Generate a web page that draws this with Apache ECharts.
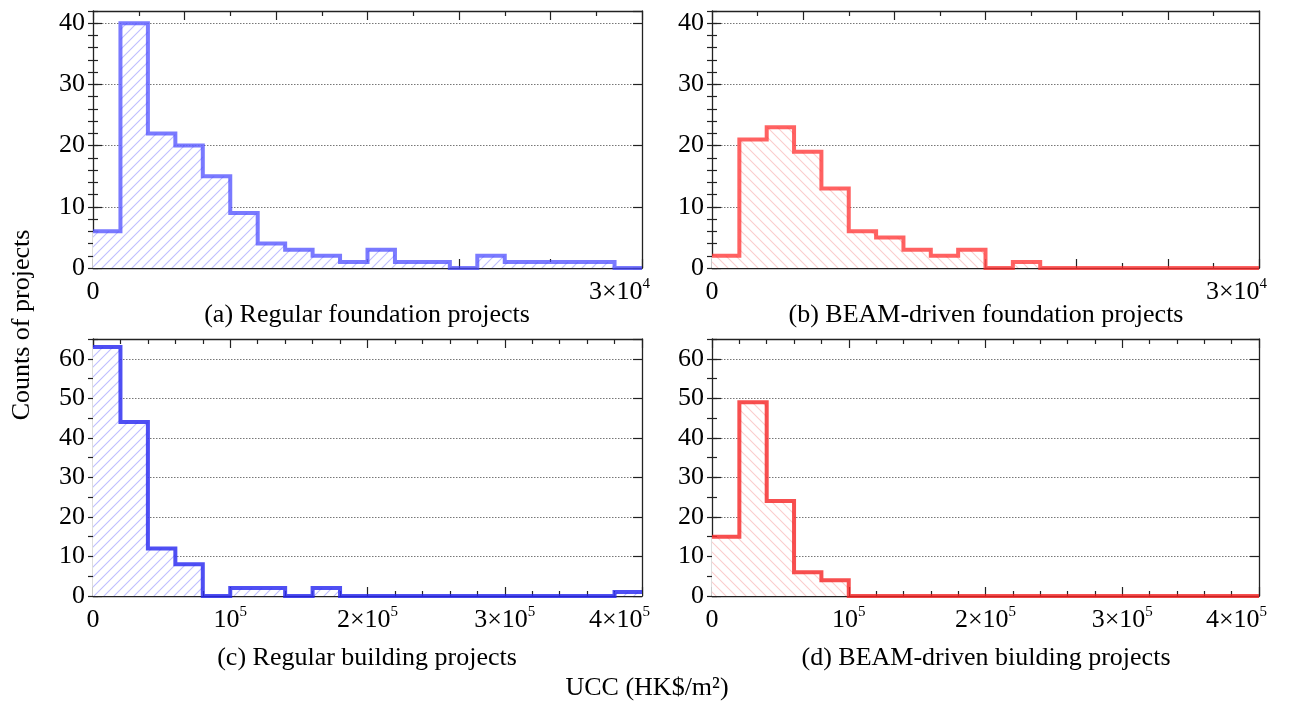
<!DOCTYPE html>
<html><head><meta charset="utf-8">
<script src="https://cdn.jsdelivr.net/npm/echarts@6/dist/echarts.min.js"></script>
<style>html,body{margin:0;padding:0;background:#fff}#c{width:1294px;height:702px}</style>
</head><body><div id="c"></div>
<script>
// ---------------- data ----------------
const foundationBinEdges = [0,1500,3000,4500,6000,7500,9000,10500,12000,13500,15000,16500,18000,19500,21000,22500,24000,25500,27000,28500,30000];
const buildingBinEdges = [0,20000,40000,60000,80000,100000,120000,140000,160000,180000,200000,220000,240000,260000,280000,300000,320000,340000,360000,380000,400000];

const regularFoundationCounts = [6,40,22,20,15,9,4,3,2,1,3,1,1,0,2,1,1,1,1,0];
const beamFoundationCounts    = [2,21,23,19,13,6,5,3,2,3,0,1,0,0,0,0,0,0,0,0];
const regularBuildingCounts   = [63,44,12,8,0,2,2,0,2,0,0,0,0,0,0,0,0,0,0,1];
const beamBuildingCounts      = [15,49,24,6,4,0,0,0,0,0,0,0,0,0,0,0,0,0,0,0];

const foundationTickValues = [0, 30000];
const foundationTickBases  = ['0', '3×10'];
const foundationTickExps   = ['', '4'];
const buildingTickValues = [0, 100000, 200000, 300000, 400000];
const buildingTickBases  = ['0', '10', '2×10', '3×10', '4×10'];
const buildingTickExps   = ['', '5', '5', '5', '5'];

const panelCaptions = ['(a) Regular foundation projects', '(b) BEAM-driven foundation projects',
                       '(c) Regular building projects', '(d) BEAM-driven biulding projects'];
const yAxisTitle = 'Counts of projects';
const xAxisTitle = 'UCC (HK$/m²)';

// ---------------- styling ----------------
const FONT = '"Liberation Serif","Times New Roman",serif';
const AXC = '#222';

function hatch(r, g, b, dir) {
  const s = 10;
  const c = document.createElement('canvas'); c.width = s; c.height = s;
  const ctx = c.getContext('2d');
  ctx.fillStyle = 'rgb(255,255,255)'; ctx.fillRect(0, 0, s, s);
  ctx.strokeStyle = 'rgb(' + r + ',' + g + ',' + b + ')'; ctx.lineWidth = 1.1;
  ctx.beginPath();
  if (dir > 0) {
    ctx.moveTo(-1, s + 1); ctx.lineTo(s + 1, -1);
    ctx.moveTo(-1, 1); ctx.lineTo(1, -1);
    ctx.moveTo(s - 1, s + 1); ctx.lineTo(s + 1, s - 1);
  } else {
    ctx.moveTo(-1, -1); ctx.lineTo(s + 1, s + 1);
    ctx.moveTo(s - 1, -1); ctx.lineTo(s + 1, 1);
    ctx.moveTo(-1, s - 1); ctx.lineTo(1, s + 1);
  }
  ctx.stroke();
  return c.toDataURL('image/png');
}

const panels = [
  {grid:{left:93, top:11, width:549, height:257}, edges:foundationBinEdges, counts:regularFoundationCounts,
   xmax:30000, xMajor:5000, xMinorSplit:2, ymax:42, yMinor:2, tv:foundationTickValues, tb:foundationTickBases, te:foundationTickExps,
   color:'rgba(70,70,255,0.72)', width:4, fill:hatch(190,190,255,1)},
  {grid:{left:712, top:11, width:547, height:257}, edges:foundationBinEdges, counts:beamFoundationCounts,
   xmax:30000, xMajor:5000, xMinorSplit:2, ymax:42, yMinor:2, tv:foundationTickValues, tb:foundationTickBases, te:foundationTickExps,
   color:'rgba(255,45,45,0.75)', width:4, fill:hatch(250,205,205,-1)},
  {grid:{left:93, top:339, width:549, height:257}, edges:buildingBinEdges, counts:regularBuildingCounts,
   xmax:400000, xMajor:100000, xMinorSplit:5, ymax:65, yMinor:5, tv:buildingTickValues, tb:buildingTickBases, te:buildingTickExps,
   color:'rgba(40,40,240,0.82)', width:4, fill:hatch(190,190,255,1)},
  {grid:{left:712, top:339, width:547, height:257}, edges:buildingBinEdges, counts:beamBuildingCounts,
   xmax:400000, xMajor:100000, xMinorSplit:5, ymax:65, yMinor:5, tv:buildingTickValues, tb:buildingTickBases, te:buildingTickExps,
   color:'rgba(245,35,35,0.8)', width:4, fill:hatch(250,205,205,-1)}
];

const rich = {
  b: {fontFamily: FONT, fontSize: 26, lineHeight: 30, color: '#000'},
  e: {fontFamily: FONT, fontSize: 15, lineHeight: 15, verticalAlign: 'top', color: '#000'},
  el: {fontFamily: FONT, fontSize: 15, lineHeight: 15, verticalAlign: 'top', color: '#000', padding: [0, 45, 0, 0]}
};

const grids = [], xAxes = [], yAxes = [], series = [];
panels.forEach((p, g) => {
  grids.push(Object.assign({outerBoundsMode: 'none', containLabel: false}, p.grid));
  const lineStyle = {color: AXC, width: 1.3};
  const xFmt = v => {
    const i = p.tv.indexOf(v);
    if (i < 0) return '';
    if (!p.te[i]) return '{b|' + p.tb[i] + '}';
    return '{b|' + p.tb[i] + '}{' + (i === p.tv.length - 1 ? 'el' : 'e') + '|' + p.te[i] + '}';
  };
  ['bottom', 'top'].forEach(pos => {
    xAxes.push({
      gridIndex: g, type: 'value', min: 0, max: p.xmax, interval: p.xMajor, position: pos,
      axisLine: {show: true, onZero: false, lineStyle},
      axisTick: {show: true, inside: true, length: 9, lineStyle: {color: AXC, width: 1.2}},
      minorTick: {show: true, splitNumber: p.xMinorSplit, length: 5, lineStyle: {color: AXC, width: 1.2}},
      splitLine: {show: false},
      axisLabel: pos === 'bottom'
        ? {show: true, formatter: xFmt, rich, margin: 9, showMinLabel: true, showMaxLabel: true, hideOverlap: false}
        : {show: false}
    });
  });
  ['left', 'right'].forEach(pos => {
    yAxes.push({
      gridIndex: g, type: 'value', min: 0, max: p.ymax, interval: 10, position: pos,
      axisLine: {show: true, onZero: false, lineStyle},
      axisTick: {show: true, inside: true, length: 9, lineStyle: {color: AXC, width: 1.2}},
      splitLine: pos === 'left' ? {show: true, lineStyle: {color: '#777', width: 1, type: [1.5, 1.5]}} : {show: false},
      axisLabel: pos === 'left'
        ? {show: true, margin: 8, fontFamily: FONT, fontSize: 26, color: '#000', showMaxLabel: false,
           formatter: v => (v % 10 === 0 ? String(v) : '')}
        : {show: false}
    });
    yAxes.push({
      gridIndex: g, type: 'value', min: 0, max: p.ymax, interval: p.yMinor, position: pos,
      axisLine: {show: false},
      axisTick: {show: true, inside: true, length: 5, lineStyle: {color: AXC, width: 1.2}},
      splitLine: {show: false},
      axisLabel: {show: false}
    });
  });
  const data = p.counts.map((c, i) => [p.edges[i], c]);
  data.push([p.edges[p.edges.length - 1], p.counts[p.counts.length - 1]]);
  series.push({
    type: 'line', xAxisIndex: 2 * g, yAxisIndex: 4 * g, step: 'end', symbol: 'none', showSymbol: false,
    data, z: 3, animation: false,
    lineStyle: {color: p.color, width: p.width, join: 'miter'},
    areaStyle: {color: {image: p.fill, repeat: 'repeat'}, opacity: 1}
  });
});

const textStyle = (text, x, y, rot) => ({
  type: 'text', x, y, rotation: rot || 0, silent: true,
  style: {text, font: '26px ' + FONT, fill: '#000', textAlign: 'center', textVerticalAlign: 'middle'}
});

const option = {
  animation: false,
  backgroundColor: '#fff',
  grid: grids, xAxis: xAxes, yAxis: yAxes, series,
  graphic: [
    textStyle(panelCaptions[0], 367, 315),
    textStyle(panelCaptions[1], 986, 315),
    textStyle(panelCaptions[2], 367, 658),
    textStyle(panelCaptions[3], 986, 658),
    textStyle(xAxisTitle, 647, 688),
    textStyle(yAxisTitle, 22, 325, Math.PI / 2)
  ]
};
const chart = echarts.init(document.getElementById('c'), null, {renderer: 'canvas'});
chart.setOption(option);
</script></body></html>
